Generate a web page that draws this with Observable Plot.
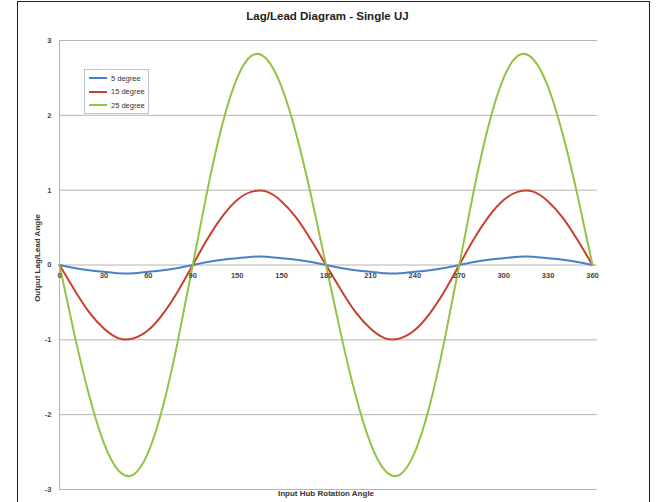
<!DOCTYPE html>
<html>
<head>
<meta charset="utf-8">
<script src="https://cdn.jsdelivr.net/npm/d3@7"></script>
<script src="https://cdn.jsdelivr.net/npm/@observablehq/plot@0.6"></script>
<style>
  html, body { margin: 0; padding: 0; background: #fff; overflow: hidden; }
  #wrap { position: relative; width: 663px; height: 502px; font-family: "Liberation Sans", Arial, Helvetica, sans-serif; color: #333; }
  #border { position: absolute; left: 17px; top: 1px; width: 633px; height: 540px; border: 1.5px solid #222; box-sizing: border-box; pointer-events: none; }
  #title { position: absolute; left: 0; width: 655px; top: 10px; text-align: center; font-weight: bold; font-size: 11.5px; color: #222; }
  #xlabel { position: absolute; left: 0; width: 652px; top: 489px; text-align: center; font-weight: bold; font-size: 8px; color: #333; }
  #ylabel { position: absolute; left: 37px; top: 258px; transform: translate(-50%, -50%) rotate(-90deg); white-space: nowrap; font-weight: bold; font-size: 8px; color: #333; }
  #legend { position: absolute; left: 84px; top: 69px; width: 65px; height: 45px; background: #fff; border: 1px solid #b8c3d6; box-sizing: border-box; font-size: 7.5px; color: #333; }
  .row { position: absolute; left: 4px; height: 10px; display: flex; align-items: center; }
  .sw { width: 18px; height: 2px; margin-right: 4px; }
  #chart { position: absolute; left: 0; top: 0; }
</style>
</head>
<body>
<div id="wrap">
  <div id="chart"></div>
  <div id="title">Lag/Lead Diagram - Single UJ</div>
  <div id="ylabel">Output Lag/Lead Angle</div>
  <div id="xlabel">Input Hub Rotation Angle</div>
  <div id="legend"></div>
  <div id="border"></div>
</div>
<script>
// Input hub rotation angle (degrees)
const angles = [0,10,20,30,40,50,60,70,80,90,100,110,120,130,140,150,160,170,180,190,200,210,220,230,240,250,260,270,280,290,300,310,320,330,340,350,360];
// Output lag/lead angle for each joint angle
const deg5  = [0,-0.04,-0.07,-0.09,-0.11,-0.11,-0.09,-0.07,-0.04,0, 0.04,0.07,0.09,0.11,0.11,0.09,0.07,0.04,0, -0.04,-0.07,-0.09,-0.11,-0.11,-0.09,-0.07,-0.04,0, 0.04,0.07,0.09,0.11,0.11,0.09,0.07,0.04,0];
const deg15 = [0,-0.33,-0.63,-0.85,-0.98,-0.98,-0.87,-0.65,-0.35,0, 0.35,0.65,0.87,0.98,0.98,0.85,0.63,0.33,0, -0.33,-0.63,-0.85,-0.98,-0.98,-0.87,-0.65,-0.35,0, 0.35,0.65,0.87,0.98,0.98,0.85,0.63,0.33,0];
const deg25 = [0,-0.92,-1.74,-2.38,-2.75,-2.80,-2.50,-1.88,-1.01,0, 1.01,1.88,2.50,2.80,2.75,2.38,1.74,0.92,0, -0.92,-1.74,-2.38,-2.75,-2.80,-2.50,-1.88,-1.01,0, 1.01,1.88,2.50,2.80,2.75,2.38,1.74,0.92,0];

const seriesNames = ["5 degree", "15 degree", "25 degree"];
const seriesColors = ["#4a80c8", "#c8412f", "#92c346"];

const xTickValues = [0,30,60,90,120,150,180,210,240,270,300,330,360];
const xTickLabels = ["0","30","60","90","150","150","180","210","240","270","300","330","360"];
const yTickValues = [-3,-2,-1,0,1,2,3];

const seriesValues = [deg5, deg15, deg25];
const data = [];
seriesNames.forEach((name, s) => {
  angles.forEach((a, i) => data.push({angle: a, value: seriesValues[s][i], series: name}));
});
const xTicks = xTickValues.map((v, i) => ({v, label: xTickLabels[i]}));

const chart = Plot.plot({
  width: 663,
  height: 502,
  marginLeft: 59,
  marginRight: 66,
  marginTop: 40,
  marginBottom: 13,
  style: {fontFamily: "'Liberation Sans', Arial, sans-serif", fontSize: "8px", color: "#333", background: "transparent"},
  x: {domain: [0, 360], insetRight: 5, axis: null},
  y: {domain: [-3, 3], axis: null},
  color: {domain: seriesNames, range: seriesColors},
  marks: [
    Plot.gridY(yTickValues, {stroke: "#bdb3ae", strokeOpacity: 1, strokeWidth: 1}),
    Plot.ruleX([0], {stroke: "#bdb3ae", strokeWidth: 1}),
    Plot.axisY(yTickValues, {tickSize: 0, tickPadding: 8, fontWeight: "bold", fill: "#444", fontSize: 7.5, tickFormat: d => String(d), label: null}),
    Plot.line(data, {x: "angle", y: "value", stroke: "series", z: "series", strokeWidth: 2, curve: "natural"}),
    Plot.text(xTicks, {x: "v", y: 0, text: "label", dy: 11, fontWeight: "bold", fill: "#444", fontSize: 7.5})
  ]
});
document.getElementById("chart").appendChild(chart);

const legend = document.getElementById("legend");
seriesNames.forEach((name, i) => {
  const row = document.createElement("div");
  row.className = "row";
  row.style.top = (3 + i * 13.5) + "px";
  const sw = document.createElement("div");
  sw.className = "sw";
  sw.style.background = seriesColors[i];
  const t = document.createElement("span");
  t.textContent = name;
  row.appendChild(sw);
  row.appendChild(t);
  legend.appendChild(row);
});
</script>
</body>
</html>
